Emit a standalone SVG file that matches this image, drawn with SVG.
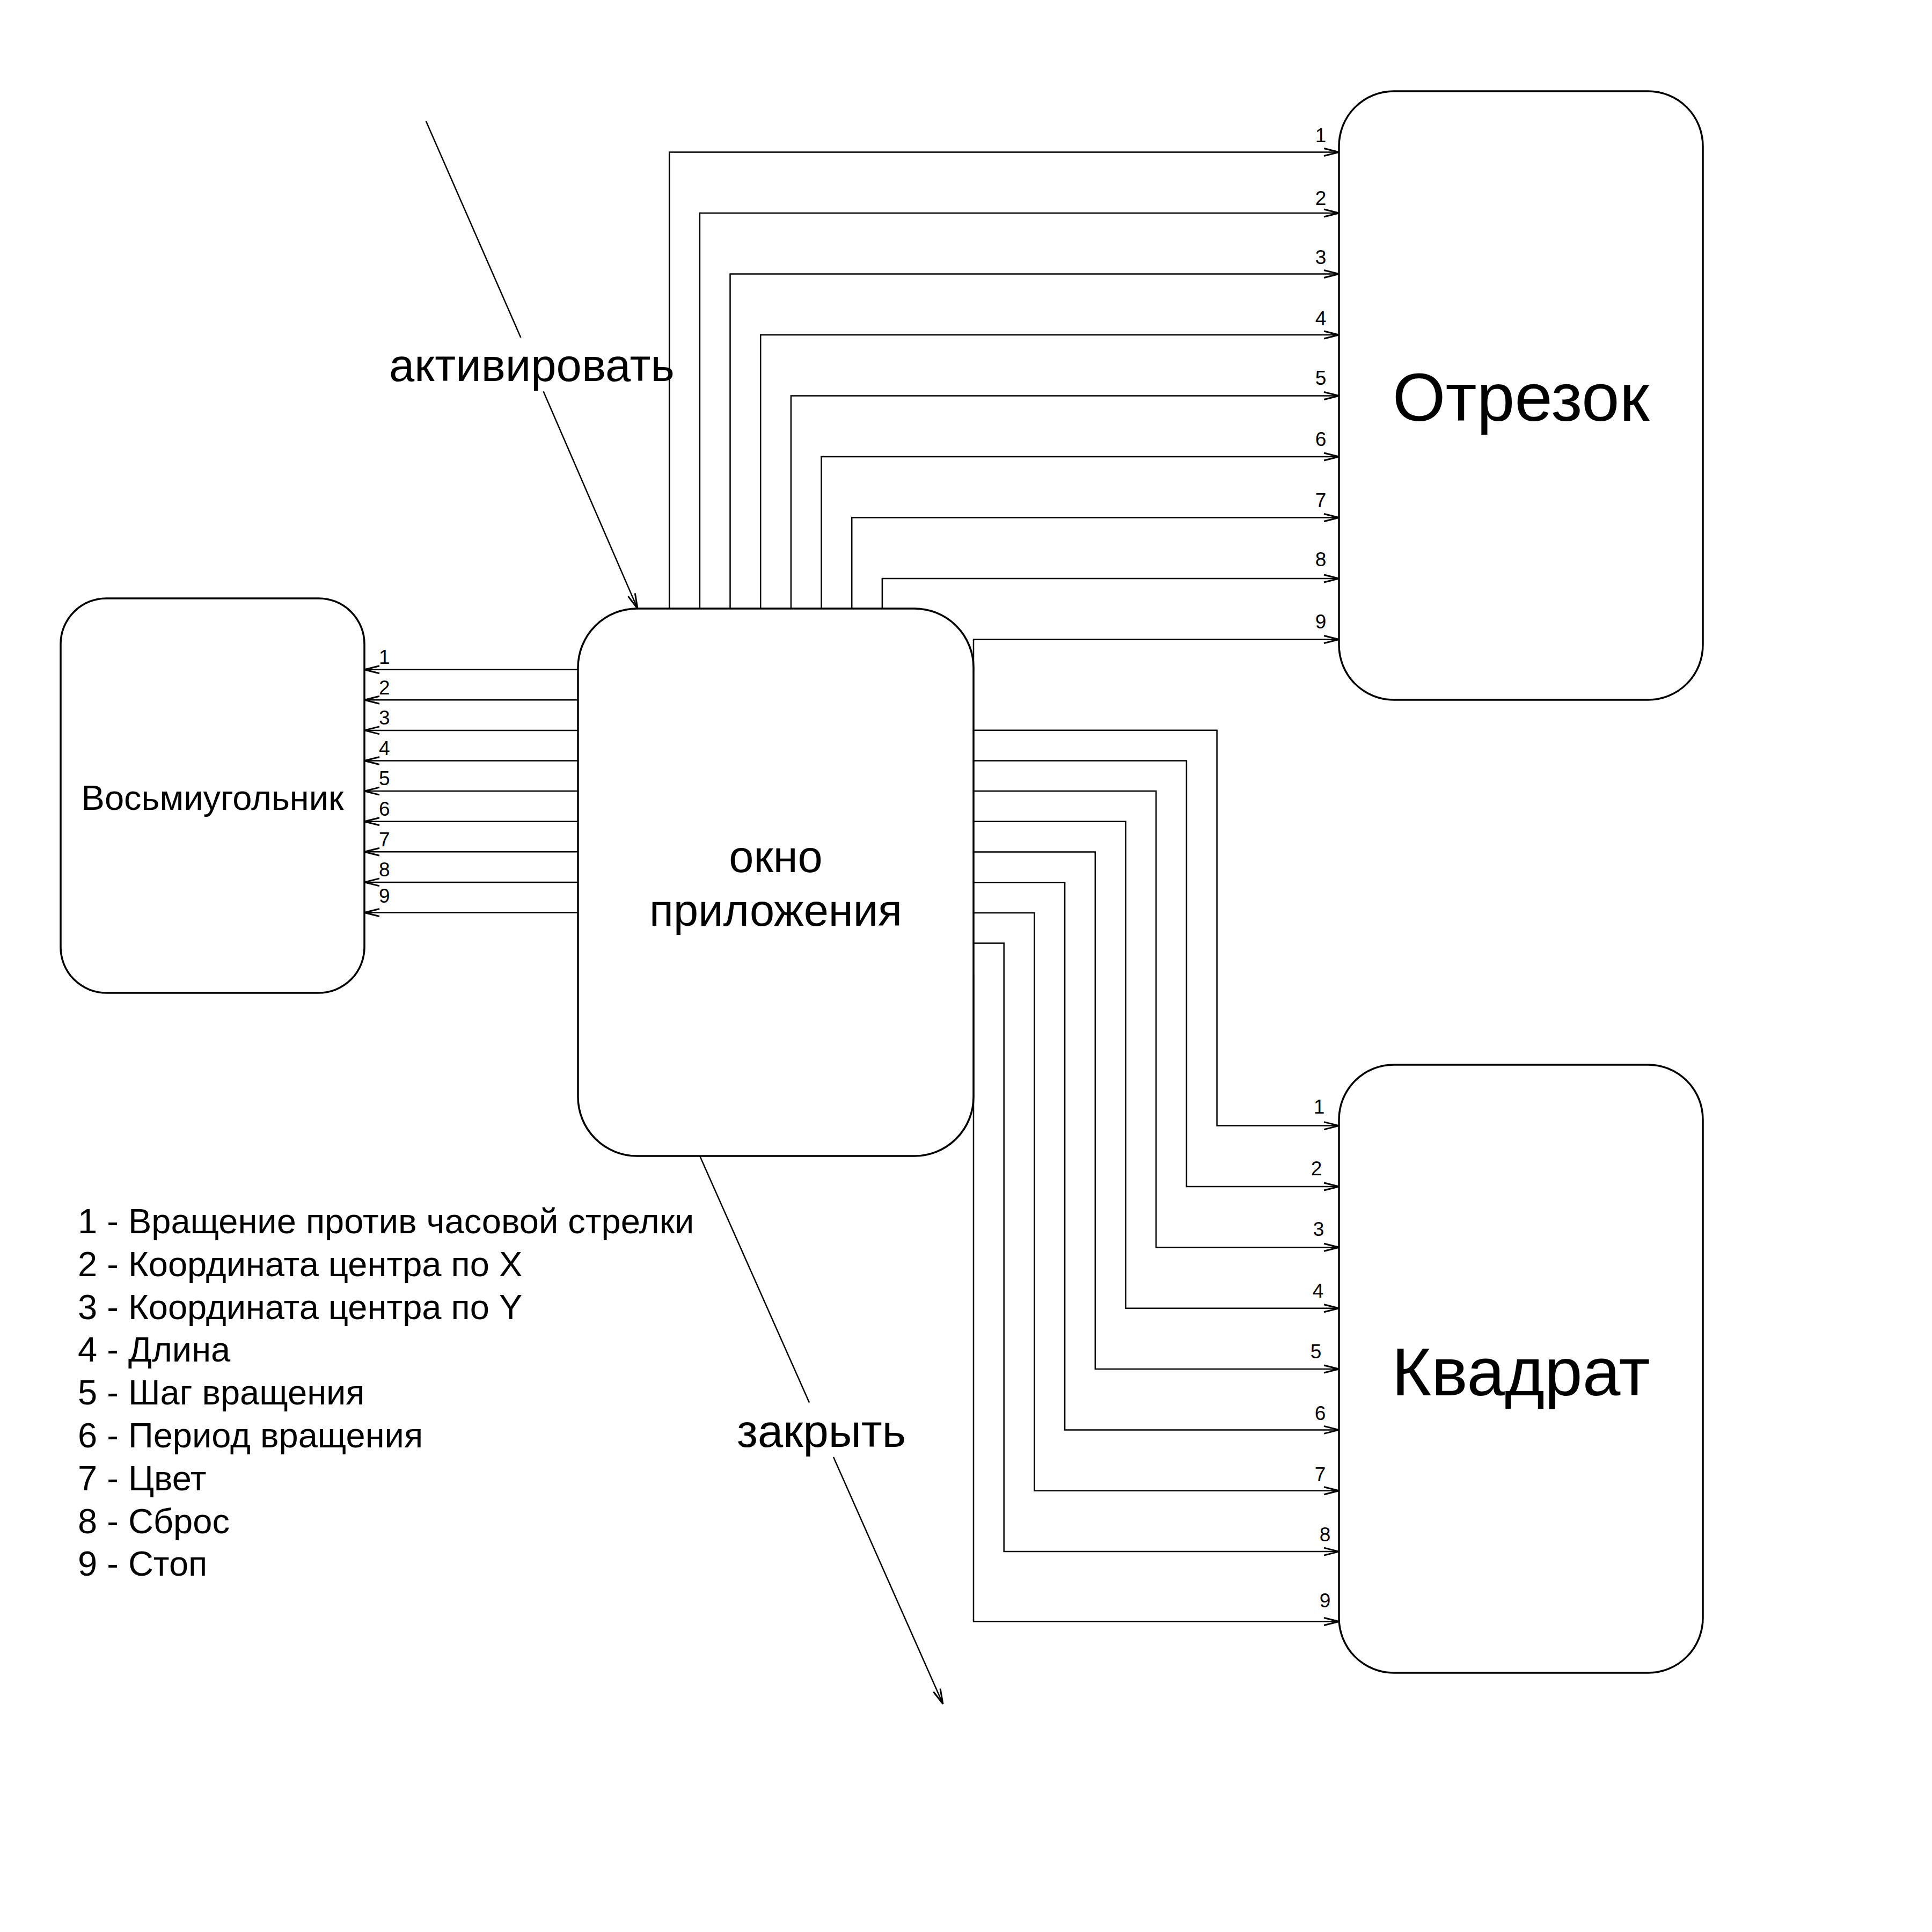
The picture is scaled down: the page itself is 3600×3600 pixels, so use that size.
<svg xmlns="http://www.w3.org/2000/svg" width="3600" height="3600" viewBox="0 0 3600 3600">
<style>
.box{fill:#fff;stroke:#000;stroke-width:3.5}
.c{fill:none;stroke:#000;stroke-width:2.5;marker-end:url(#arr)}
.t{font-family:"Liberation Sans",Arial,Helvetica,sans-serif;fill:#000}
.n{font-size:37px;text-anchor:middle}
.nl{font-size:37px}
.lg{font-size:65px}
</style>
<defs>
<marker id="arr" markerUnits="userSpaceOnUse" markerWidth="36" markerHeight="24" viewBox="-4 -12 36 24" refX="28" refY="0" orient="auto">
<path d="M0,-7 L28,0 L0,7" fill="none" stroke="#000" stroke-width="3"/>
</marker>
</defs>
<rect width="3600" height="3600" fill="#fff"/>

<g id="connectors">
<!-- okno -> Отрезок -->
<path class="c" d="M1247.2 1134 V283.5 H2495"/>
<path class="c" d="M1303.9 1134 V397 H2495"/>
<path class="c" d="M1360.5 1134 V510.5 H2495"/>
<path class="c" d="M1417.2 1134 V624 H2495"/>
<path class="c" d="M1473.9 1134 V737.5 H2495"/>
<path class="c" d="M1530.5 1134 V851 H2495"/>
<path class="c" d="M1587.2 1134 V964.5 H2495"/>
<path class="c" d="M1643.9 1134 V1078 H2495"/>
<path class="c" d="M1814 1250 V1191.5 H2495"/>
<!-- okno -> Восьмиугольник -->
<path class="c" d="M1077 1247.7 H679"/>
<path class="c" d="M1077 1304.3 H679"/>
<path class="c" d="M1077 1360.9 H679"/>
<path class="c" d="M1077 1417.5 H679"/>
<path class="c" d="M1077 1474.1 H679"/>
<path class="c" d="M1077 1530.7 H679"/>
<path class="c" d="M1077 1587.3 H679"/>
<path class="c" d="M1077 1643.9 H679"/>
<path class="c" d="M1077 1700.5 H679"/>
<!-- okno -> Квадрат -->
<path class="c" d="M1814 1360.7 H2267.6 V2097.6 H2495"/>
<path class="c" d="M1814 1417.4 H2210.9 V2211 H2495"/>
<path class="c" d="M1814 1474.1 H2154.2 V2324.3 H2495"/>
<path class="c" d="M1814 1530.8 H2097.5 V2437.7 H2495"/>
<path class="c" d="M1814 1587.5 H2040.8 V2551 H2495"/>
<path class="c" d="M1814 1644.2 H1984.1 V2664.4 H2495"/>
<path class="c" d="M1814 1700.9 H1927.4 V2777.8 H2495"/>
<path class="c" d="M1814 1757.6 H1870.7 V2891.1 H2495"/>
<path class="c" d="M1814 1815 V3021.5 H2495"/>
<!-- активировать / закрыть -->
<path class="c" d="M793.7 225.5 L970.4 629 M1012.5 729.3 L1188 1134"/>
<path class="c" d="M1304 2154 L1508 2613.5 M1553 2715 L1757 3175"/>
</g>

<g id="edge-labels" class="t">
<text class="n" x="2461" y="265">1</text>
<text class="n" x="2461" y="382">2</text>
<text class="n" x="2461" y="492">3</text>
<text class="n" x="2461" y="606">4</text>
<text class="n" x="2461" y="717">5</text>
<text class="n" x="2461" y="831">6</text>
<text class="n" x="2461" y="945">7</text>
<text class="n" x="2461" y="1055">8</text>
<text class="n" x="2461" y="1171">9</text>

<text class="nl" x="706" y="1237">1</text>
<text class="nl" x="706" y="1294">2</text>
<text class="nl" x="706" y="1350">3</text>
<text class="nl" x="706" y="1407">4</text>
<text class="nl" x="706" y="1463">5</text>
<text class="nl" x="706" y="1520">6</text>
<text class="nl" x="706" y="1577">7</text>
<text class="nl" x="706" y="1633">8</text>
<text class="nl" x="706" y="1682">9</text>

<text class="n" x="2458" y="2075">1</text>
<text class="n" x="2453" y="2190">2</text>
<text class="n" x="2457" y="2303">3</text>
<text class="n" x="2456" y="2418">4</text>
<text class="n" x="2452" y="2531">5</text>
<text class="n" x="2460" y="2646">6</text>
<text class="n" x="2460" y="2760">7</text>
<text class="n" x="2469" y="2872">8</text>
<text class="n" x="2469" y="2995">9</text>

<text x="990.8" y="710" font-size="85" text-anchor="middle">активировать</text>
<text x="1530.5" y="2696" font-size="85" text-anchor="middle">закрыть</text>
</g>

<g id="node-vosmiugolnik">
<rect class="box" x="113" y="1115" width="566" height="735" rx="85" ry="85"/>
<text class="t" x="396" y="1509" font-size="65" text-anchor="middle">Восьмиугольник</text>
</g>

<g id="node-okno">
<rect class="box" x="1077" y="1134" width="737" height="1020" rx="110" ry="110"/>
<text class="t" x="1445.5" y="1625" font-size="83" text-anchor="middle">окно</text>
<text class="t" x="1445.5" y="1724.5" font-size="83" text-anchor="middle">приложения</text>
</g>

<g id="node-otrezok">
<rect class="box" x="2495" y="170" width="678" height="1134" rx="102" ry="102"/>
<text class="t" x="2834" y="784" font-size="127" text-anchor="middle">Отрезок</text>
</g>

<g id="node-kvadrat">
<rect class="box" x="2495" y="1984" width="678" height="1133" rx="102" ry="102"/>
<text class="t" x="2834" y="2600" font-size="127" text-anchor="middle">Квадрат</text>
</g>

<g id="legend" class="t lg">
<text x="145" y="2298">1 - Вращение против часовой стрелки</text>
<text x="145" y="2378">2 - Координата центра по X</text>
<text x="145" y="2458">3 - Координата центра по Y</text>
<text x="145" y="2537">4 - Длина</text>
<text x="145" y="2617">5 - Шаг вращения</text>
<text x="145" y="2697">6 - Период вращения</text>
<text x="145" y="2777">7 - Цвет</text>
<text x="145" y="2857">8 - Сброс</text>
<text x="145" y="2936">9 - Стоп</text>
</g>
</svg>
